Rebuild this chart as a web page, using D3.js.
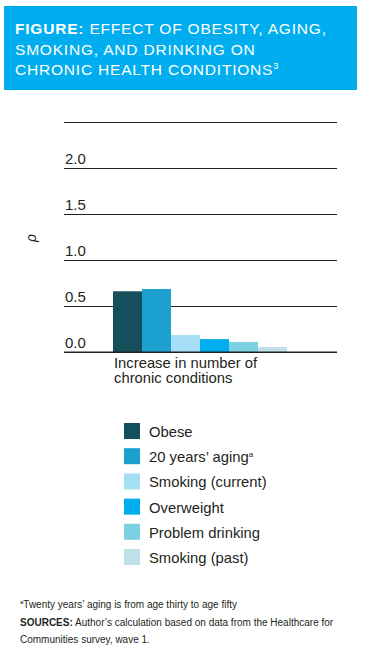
<!DOCTYPE html>
<html>
<head>
<meta charset="utf-8">
<script src="https://cdn.jsdelivr.net/npm/d3@7"></script>
<style>
  body { margin: 0; background: #fff; }
  svg { display: block; }
  text { font-family: "Liberation Sans", Arial, sans-serif; fill: #231f20; }
</style>
</head>
<body>
<script>
// data
var categories = ["Obese", "20 years’ aging", "Smoking (current)", "Overweight", "Problem drinking", "Smoking (past)"];
var values = [0.66, 0.685, 0.185, 0.14, 0.11, 0.055];
var colors = ["#164f5c", "#1ba0cf", "#a6def6", "#00aeef", "#7bd0e2", "#c0e0e7"];
var yTicks = [0, 0.5, 1.0, 1.5, 2.0, 2.5];
var xLabel = ["Increase in number of", "chronic conditions"];

var W = 369, H = 655;
var svg = d3.select("body").append("svg")
  .attr("width", W)
  .attr("height", H);

// title box
svg.append("rect")
  .attr("x", 4).attr("y", 6)
  .attr("width", 353).attr("height", 84)
  .attr("fill", "#00aeef");

var title = svg.append("g").attr("transform", "translate(15,0)")
  .style("font-size", "15.5px")
  .style("letter-spacing", "0.8px");
var tl1 = title.append("text").attr("y", 34).style("fill", "#fff");
tl1.append("tspan").style("font-weight", "bold").text("FIGURE:");
tl1.append("tspan").text(" EFFECT OF OBESITY, AGING,");
title.append("text").attr("y", 55).style("fill", "#fff")
  .text("SMOKING, AND DRINKING ON");
var tl3 = title.append("text").attr("y", 75).style("fill", "#fff");
tl3.append("tspan").text("CHRONIC HEALTH CONDITIONS");
tl3.append("tspan").attr("dy", -6).style("font-size", "9px").text("3");

// chart scales
var y = d3.scaleLinear().domain([0, 2.5]).range([352, 122]);
var x = d3.scaleBand().domain(categories).range([113, 287]).padding(0);

// gridlines + tick labels
var gAxis = svg.append("g")
  .attr("transform", "translate(64,0)")
  .call(d3.axisRight(y)
    .tickValues(yTicks)
    .tickSize(273)
    .tickFormat(function (d) { return d === 2.5 ? "" : d3.format(".1f")(d); }));
gAxis.select(".domain").remove();
gAxis.selectAll(".tick line")
  .attr("stroke", "#231f20")
  .attr("stroke-width", 1.2);
gAxis.selectAll(".tick text")
  .attr("x", 1)
  .attr("dy", -5)
  .attr("text-anchor", "start")
  .style("font-size", "15px")
  .style("fill", "#231f20");

// bars
svg.append("g").selectAll("rect")
  .data(values)
  .enter()
  .append("rect")
  .attr("x", function (d, i) { return x(categories[i]); })
  .attr("width", x.bandwidth())
  .attr("y", function (d) { return y(d); })
  .attr("height", function (d) { return y(0) - y(d); })
  .attr("fill", function (d, i) { return colors[i]; });

// redraw baseline on top of bars
svg.append("line")
  .attr("x1", 64).attr("x2", 337)
  .attr("y1", y(0)).attr("y2", y(0))
  .attr("stroke", "#231f20").attr("stroke-width", 1.2);

// y label (rho)
svg.append("text")
  .attr("transform", "translate(36,238) rotate(-90)")
  .attr("text-anchor", "middle")
  .style("font-style", "italic")
  .style("font-size", "14px")
  .text("ρ");

// x label
svg.append("g").selectAll("text")
  .data(xLabel)
  .enter()
  .append("text")
  .attr("x", 114)
  .attr("y", function (d, i) { return 368 + i * 15; })
  .style("font-size", "14.8px")
  .text(function (d) { return d; });

// legend
var legend = svg.append("g").selectAll("g")
  .data(categories)
  .enter()
  .append("g")
  .attr("transform", function (d, i) { return "translate(124," + (423 + i * 25.2) + ")"; });
legend.append("rect")
  .attr("width", 16).attr("height", 16)
  .attr("fill", function (d, i) { return colors[i]; });
var lt = legend.append("text")
  .attr("x", 25).attr("y", 14)
  .style("font-size", "14.8px");
lt.append("tspan").text(function (d) { return d; });
lt.filter(function (d, i) { return i === 1; })
  .append("tspan").attr("dy", -5).style("font-size", "8px").text("a");

// footnotes
var fn = svg.append("g").style("font-size", "10px");
var f1 = fn.append("text").attr("x", 20).attr("y", 608);
f1.append("tspan").attr("dy", -4).style("font-size", "6px").text("a");
f1.append("tspan").attr("dy", 4).text("Twenty years’ aging is from age thirty to age fifty");
var f2 = fn.append("text").attr("x", 20).attr("y", 626);
f2.append("tspan").style("font-weight", "bold").text("SOURCES:");
f2.append("tspan").text(" Author’s calculation based on data from the Healthcare for");
fn.append("text").attr("x", 20).attr("y", 643).text("Communities survey, wave 1.");
</script>
</body>
</html>
